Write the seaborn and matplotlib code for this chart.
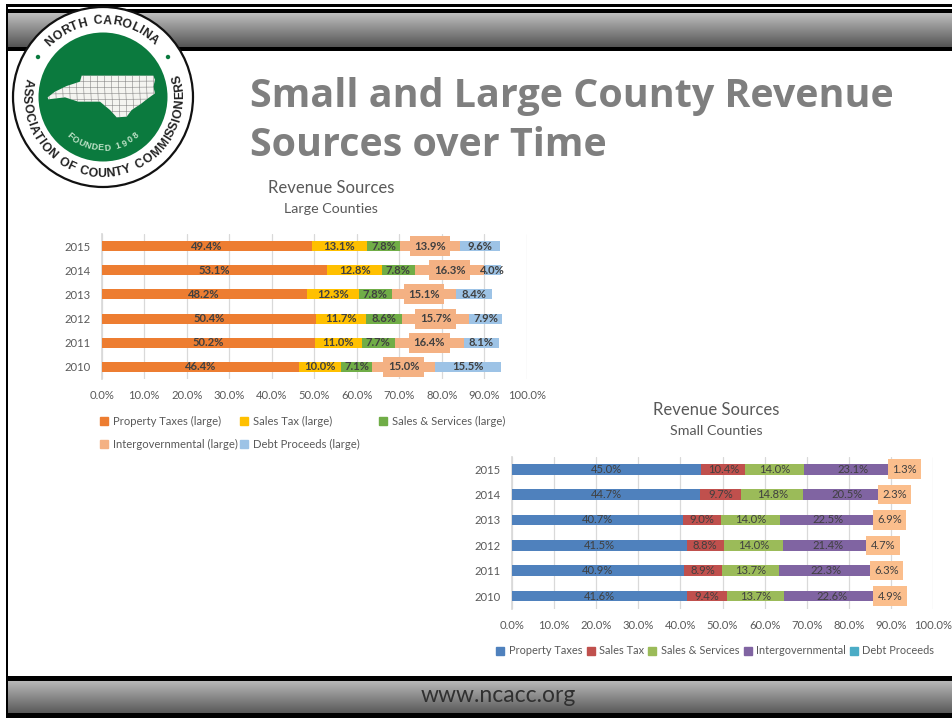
import numpy as np
import pandas as pd
import matplotlib
matplotlib.use('Agg')
import matplotlib.pyplot as plt
from matplotlib.patches import Circle, Polygon, Rectangle
from matplotlib.lines import Line2D
import seaborn as sns

years = ['2015', '2014', '2013', '2012', '2011', '2010']

large_series = ['Property Taxes (large)', 'Sales Tax (large)', 'Sales & Services (large)',
                'Intergovernmental (large)', 'Debt Proceeds (large)']
large_property = [49.4, 53.1, 48.2, 50.4, 50.2, 46.4]
large_sales = [13.1, 12.8, 12.3, 11.7, 11.0, 10.0]
large_services = [7.8, 7.8, 7.8, 8.6, 7.7, 7.1]
large_intergov = [13.9, 16.3, 15.1, 15.7, 16.4, 15.0]
large_debt = [9.6, 4.0, 8.4, 7.9, 8.1, 15.5]
large_colors = ['#ED7D31', '#FFC000', '#70AD47', '#F4B183', '#9DC3E6']

small_series = ['Property Taxes', 'Sales Tax', 'Sales & Services', 'Intergovernmental', 'Debt Proceeds']
small_property = [45.0, 44.7, 40.7, 41.5, 40.9, 41.6]
small_sales = [10.4, 9.7, 9.0, 8.8, 8.9, 9.4]
small_services = [14.0, 14.8, 14.0, 14.0, 13.7, 13.7]
small_intergov = [23.1, 20.5, 22.5, 21.4, 22.3, 22.6]
small_debt = [1.3, 2.3, 6.9, 4.7, 6.3, 4.9]
small_colors = ['#4F81BD', '#C0504D', '#9BBB59', '#8064A2', '#4BACC6']

x_ticks = [0, 10, 20, 30, 40, 50, 60, 70, 80, 90, 100]

W, H = 953, 721
sns.set_theme(style='white')
plt.rcParams['font.family'] = ['Lato', 'DejaVu Sans']

fig = plt.figure(figsize=(W / 100, H / 100), dpi=100, facecolor='white')

# page furniture drawn in pixel coordinates
bg = fig.add_axes([0, 0, 1, 1], zorder=0)


def band(y0, y1, top, bottom):
    grad = np.linspace(0, 1, 64)[:, None]
    c0, c1 = np.array(matplotlib.colors.to_rgb(top)), np.array(matplotlib.colors.to_rgb(bottom))
    img = (c0 + (c1 - c0) * grad[..., None])
    bg.imshow(img, extent=[7, W, y1, y0], aspect='auto', zorder=1)


band(13, 47, '#BEBEBE', '#555555')
band(681, 713, '#B8B8B8', '#5A5A5A')
bg.set_xlim(0, W)
bg.set_ylim(H, 0)
bg.axis('off')
for y0, y1 in [(4, 6.5), (8.5, 13), (47, 51), (676, 681), (713, 718)]:
    bg.add_patch(Rectangle((6, y0), W - 6, y1 - y0, color='black', lw=0, zorder=2))
bg.add_patch(Rectangle((6, 4), 2.5, 714, color='black', lw=0, zorder=2))

bg.text(498, 696, 'www.ncacc.org', ha='center', va='center', fontsize=16.5, color='#303030', zorder=3)
bg.text(250, 96, 'Small and Large County Revenue', family='Open Sans', fontweight='bold',
        fontsize=28.4, color='#7F7F7F', va='center', ha='left')
bg.text(250, 145, 'Sources over Time', family='Open Sans', fontweight='bold',
        fontsize=28.4, color='#7F7F7F', va='center', ha='left')

bg.text(331, 188, 'Revenue Sources', fontsize=12, color='#595959', ha='center', va='center')
bg.text(331, 209, 'Large Counties', fontsize=10.3, color='#595959', ha='center', va='center')
bg.text(716, 410, 'Revenue Sources', fontsize=12, color='#595959', ha='center', va='center')
bg.text(716, 431, 'Small Counties', fontsize=10.3, color='#595959', ha='center', va='center')

# association seal
cx, cy = 103, 97
bg.add_patch(Circle((cx, cy), 90, fc='white', ec='#111111', lw=1.6, zorder=4))
bg.add_patch(Circle((cx, cy), 64.5, fc='#0B7A3E', ec='none', zorder=5))
outline = [(38, 112), (60, 95), (95, 78), (135, 65), (140, 47), (355, 47), (360, 60), (355, 80), (360, 100),
           (335, 118), (320, 130), (290, 150), (275, 170), (245, 172), (225, 150), (195, 125), (130, 125),
           (90, 112), (40, 118)]
state = Polygon([(35 + u / 3, 60 + v / 3) for u, v in outline], fc='#F4F4F0', ec='none', zorder=6)
bg.add_patch(state)
for gx in np.arange(48, 160, 7):
    ln = bg.plot([gx, gx + 2], [70, 120], color='#777777', lw=0.35, zorder=7)[0]
    ln.set_clip_path(state)
for gy in np.arange(76, 120, 6):
    ln = bg.plot([40, 160], [gy, gy - 1], color='#777777', lw=0.35, zorder=7)[0]
    ln.set_clip_path(state)
bg.set_xlim(0, W)
bg.set_ylim(H, 0)

char_width = {'I': 0.45, ' ': 0.6, 'M': 1.25, 'O': 1.1, 'C': 1.05, 'T': 0.9, 'S': 0.9, 'F': 0.85, 'L': 0.85}


def arc_text(s, radius, start, end, size, color='#222222', flip=False):
    w = np.array([char_width.get(c, 1.0) for c in s])
    edges = np.concatenate([[0], np.cumsum(w)])
    mids = (edges[:-1] + edges[1:]) / 2 / edges[-1]
    for ch, f in zip(s, mids):
        ang = start + (end - start) * f
        a = np.deg2rad(ang)
        px, py = cx + radius * np.cos(a), cy - radius * np.sin(a)
        rot = ang + 90 if flip else ang - 90
        bg.text(px, py, ch, fontsize=size, color=color, rotation=rot, rotation_mode='anchor',
                ha='center', va='center', family='Liberation Sans', fontweight='bold', zorder=8)


arc_text('NORTH CAROLINA', 76, 137, 45, 8.8)
arc_text('ASSOCIATION OF COUNTY COMMISSIONERS', 77, 166, 377, 8.8, flip=True)
arc_text('FOUNDED 1908', 51, 226, 314, 6.4, color='#BFE3C8', flip=True)
for dot_x in (cx - 65, cx + 65):
    bg.add_patch(Circle((dot_x, 57), 2.2, fc='#0B7A3E', ec='none', zorder=8))


def make_axes(left, right, top, bottom):
    return fig.add_axes([left / W, 1 - bottom / H, (right - left) / W, (bottom - top) / H], zorder=3)


def stacked(ax, series, columns, colors, bold, boxed, box_color, box_pad):
    left = np.zeros(len(years))
    for name, vals, color in zip(series, columns, colors):
        sns.barplot(x=vals, y=years, left=left, orient='h', color=color, saturation=1, width=0.42,
                    linewidth=0, ax=ax, label=name, legend=False, zorder=3)
        for i, v in enumerate(vals):
            kw = {}
            if name == boxed:
                kw['bbox'] = dict(boxstyle=f'square,pad={box_pad}', fc=box_color, ec='none')
            ax.text(left[i] + v / 2, i, f'{v:.1f}%', ha='center', va='center', fontsize=8.1,
                    color='#404040', fontweight='bold' if bold else 'normal', zorder=5, **kw)
        left = left + np.array(vals)
    ax.set_xlim(0, 100)
    ax.set_ylim(5.5, -0.5)
    ax.set_xticks(x_ticks)
    ax.set_xticklabels([f'{t:.1f}%' for t in x_ticks])
    ax.tick_params(axis='both', length=0, labelsize=8.1, labelcolor='#595959')
    ax.tick_params(axis='x', pad=8)
    ax.tick_params(axis='y', pad=8)
    ax.grid(axis='x', color='#D9D9D9', lw=0.9, zorder=0)
    ax.set_axisbelow(True)
    ax.set_xlabel('')
    ax.set_ylabel('')
    ax.patch.set_alpha(0)
    for s in ['top', 'right', 'bottom']:
        ax.spines[s].set_visible(False)
    ax.spines['left'].set_color('#D9D9D9')


ax1 = make_axes(101.7, 526.7, 234, 379)
stacked(ax1, large_series, [large_property, large_sales, large_services, large_intergov, large_debt],
        large_colors, True, 'Intergovernmental (large)', '#F4B183', 0.4)

ax2 = make_axes(511.7, 933.3, 456.5, 608.7)
stacked(ax2, small_series, [small_property, small_sales, small_services, small_intergov, small_debt],
        small_colors, False, 'Debt Proceeds', '#FBBE8C', 0.38)


def square(color):
    return Line2D([], [], marker='s', ls='none', color=color, ms=5.5)


# the large legend has uneven columns, so each column gets its own legend
for col_x, idx in [(98.5, [0, 3]), (238.5, [1, 4]), (377.5, [2])]:
    fig.legend([square(large_colors[i]) for i in idx], [large_series[i] for i in idx],
               frameon=False, fontsize=8.1, labelcolor='#595959', loc='upper left',
               bbox_to_anchor=(col_x / W, 1 - 416 / H), borderaxespad=0, borderpad=0, handletextpad=0.25,
               handlelength=1.0, labelspacing=1.05)
fig.legend([square(c) for c in small_colors], small_series,
           ncol=5, frameon=False, fontsize=7.9, labelcolor='#595959', loc='center left',
           bbox_to_anchor=(495 / W, 1 - 651 / H), borderaxespad=0, borderpad=0, handletextpad=0.25,
           handlelength=1.0, columnspacing=0.27)

fig.savefig('out.png', dpi=100, facecolor='white')
